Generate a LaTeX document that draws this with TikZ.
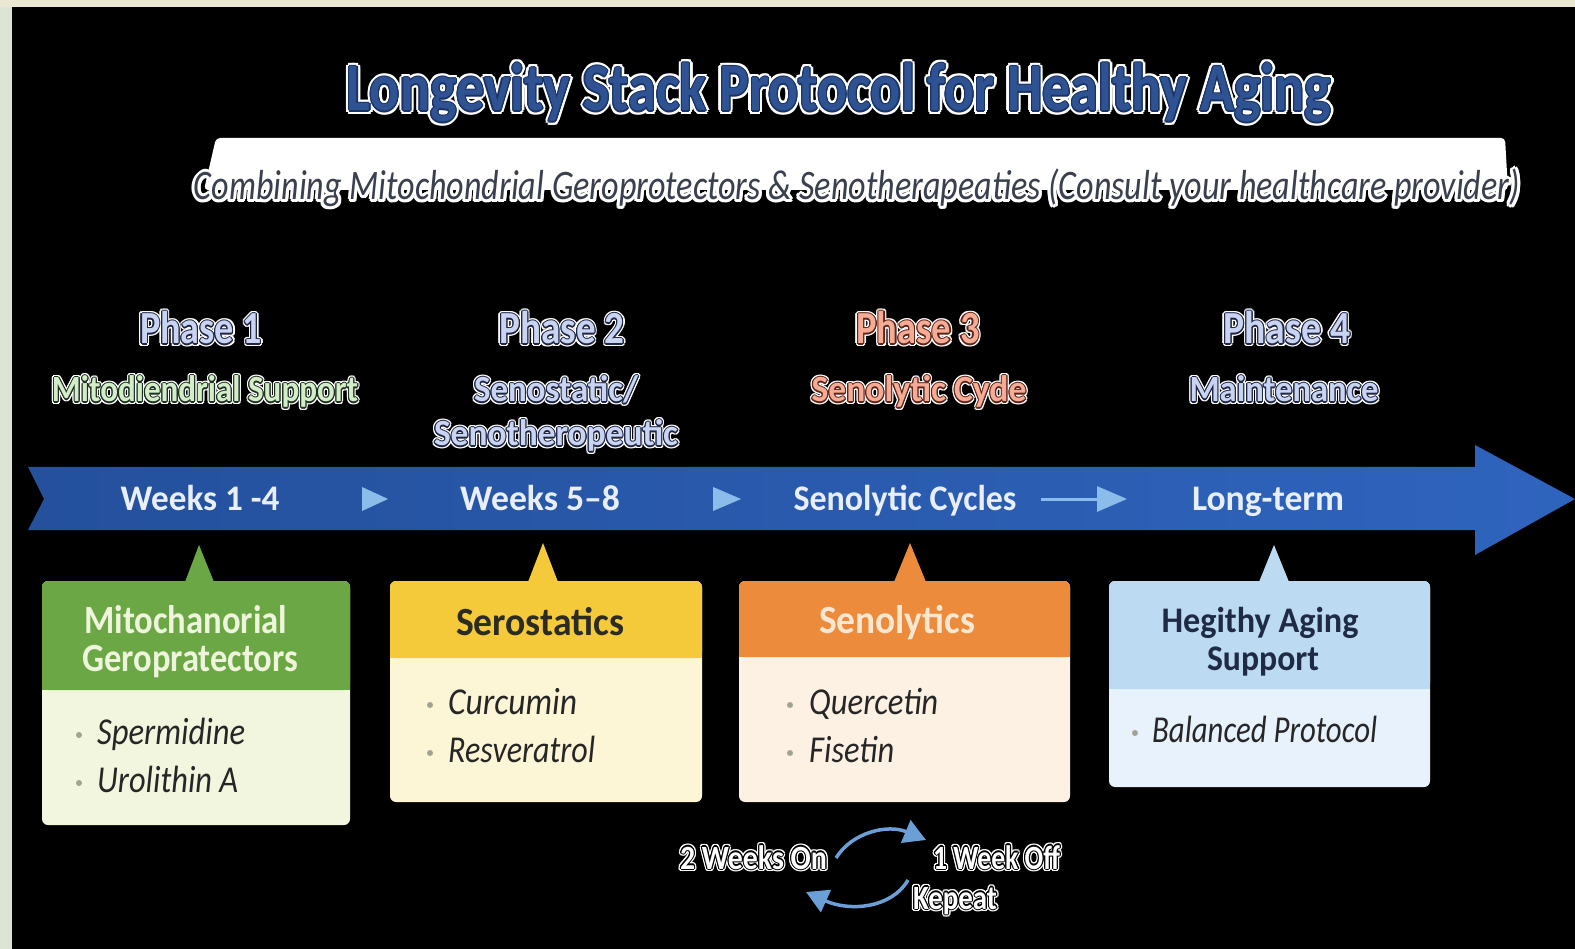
\documentclass[tikz,border=0pt]{standalone}
\usepackage{fontspec}
\setmainfont{Carlito}
\usetikzlibrary{calc,arrows.meta}
\definecolor{edgeL}{HTML}{DDE4D6}
\definecolor{edgeT}{HTML}{EAE8D2}
\definecolor{bandL}{HTML}{24509C}
\definecolor{bandR}{HTML}{2F64BE}
\definecolor{tri}{HTML}{8CBDEA}
\definecolor{wktext}{HTML}{E8EFFA}
\definecolor{ttldk}{HTML}{1A3264}
\definecolor{ttlfill}{HTML}{2E5292}
\definecolor{subtxt}{HTML}{3A404E}
\definecolor{phdk}{HTML}{1E2642}
\definecolor{phblue}{HTML}{C9D3F2}
\definecolor{phgreen}{HTML}{D3EDC9}
\definecolor{phsalm}{HTML}{F4AC96}
\definecolor{phsdk}{HTML}{5E2418}
\definecolor{grdk}{HTML}{1E3020}
\definecolor{ghead}{HTML}{6BA845}
\definecolor{gbody}{HTML}{F3F6DE}
\definecolor{yhead}{HTML}{F4C93A}
\definecolor{ybody}{HTML}{FDF6D6}
\definecolor{ohead}{HTML}{EC8B3B}
\definecolor{obody}{HTML}{FDF1E4}
\definecolor{bhead}{HTML}{BCDBF3}
\definecolor{bbody}{HTML}{E8F2FC}
\definecolor{gtxt}{HTML}{EEF5DC}
\definecolor{ytxt}{HTML}{2B2B22}
\definecolor{otxt}{HTML}{FBE7D2}
\definecolor{btxt}{HTML}{1F2B45}
\definecolor{itxt}{HTML}{262626}
\definecolor{bullet}{HTML}{A3A392}
\definecolor{cyc}{HTML}{6B9FD6}
\newcommand\fw[2]{\resizebox{#1pt}{\height}{#2}}
\newcommand\halotxt[5]{\foreach \ang in {0,30,...,330}{\node[txt,#1,text=#3] at ($(#2)+(\ang:#4)$) {#5};}}
\newcommand\oltxt[7]{%
  \halotxt{#2}{#3}{white}{#6}{#7}%
  \halotxt{#2}{#3}{#4}{1.1}{#7}%
  \node[txt,#2,text=#5] (#1) at (#3) {#7};}
\begin{document}
\begin{tikzpicture}[x=1pt,y=-1pt,
  txt/.style={inner sep=0pt,anchor=base},
  ttl/.style={font=\fontsize{68}{72}\selectfont\bfseries},
  sub/.style={font=\fontsize{42}{46}\selectfont\itshape},
  ph/.style={font=\fontsize{46}{50}\selectfont\bfseries},
  phs/.style={font=\fontsize{37}{40}\selectfont\bfseries},
  wk/.style={txt,font=\fontsize{36}{40}\selectfont\bfseries,text=wktext},
  hd/.style={txt,font=\fontsize{40}{44}\selectfont\bfseries},
  hdb/.style={txt,font=\fontsize{36}{40}\selectfont\bfseries},
  itm/.style={txt,anchor=base west,font=\fontsize{38}{42}\selectfont\itshape,text=itxt},
  cy/.style={font=\fontsize{34}{38}\selectfont\bfseries},
  bul/.style={fill=bullet,circle,inner sep=0pt,minimum size=6pt}]
\useasboundingbox (0,0) rectangle (1575,949);
\fill[edgeL] (0,0) rectangle (1575,949);
\fill[edgeT] (0,0) rectangle (1575,7);
\fill[black] (12,7) rectangle (1575,949);

% title
\oltxt{title}{ttl}{839,111}{ttldk}{ttlfill}{3.5}{\fw{984}{Longevity Stack Protocol for Healthy Aging}}

% subtitle banner
\fill[white,rounded corners=4] (216,138) -- (1505,138) -- (1508,190) -- (204,190) -- cycle;
\halotxt{sub}{857,200}{white}{3}{\fw{1326}{Combining Mitochondrial Geroprotectors \& Senotherapeaties (Consult your healthcare provider)}}
\node[txt,sub,text=subtxt] (subtitle) at (857,200) {\fw{1326}{Combining Mitochondrial Geroprotectors \& Senotherapeaties (Consult your healthcare provider)}};

% phase labels
\oltxt{ph1}{ph}{201,344}{phdk}{phblue}{2.6}{\fw{122}{Phase 1}}
\oltxt{ph2}{ph}{562,344}{phdk}{phblue}{2.6}{\fw{125}{Phase 2}}
\oltxt{ph3}{ph}{918,344}{phsdk}{phsalm}{2.6}{\fw{123}{Phase 3}}
\oltxt{ph4}{ph}{1287,344}{phdk}{phblue}{2.6}{\fw{127}{Phase 4}}
\oltxt{ps1}{phs}{205,402}{grdk}{phgreen}{2.4}{\fw{306}{Mitodiendrial Support}}
\oltxt{ps2a}{phs}{556,402}{phdk}{phblue}{2.4}{\fw{164}{Senostatic/}}
\oltxt{ps2b}{phs}{556,446}{phdk}{phblue}{2.4}{\fw{244}{Senotheropeutic}}
\oltxt{ps3}{phs}{919,402}{phsdk}{phsalm}{2.4}{\fw{215}{Senolytic Cyde}}
\oltxt{ps4}{phs}{1284,402}{phdk}{phblue}{2.4}{\fw{189}{Maintenance}}

% timeline arrow
\path[left color=bandL,right color=bandR]
  (28,467) -- (1475,467) -- (1475,445) -- (1575,499) -- (1475,555) -- (1475,530) -- (28,530) -- (44,499) -- cycle;
\node[wk] (w1) at (200,510) {\fw{159}{Weeks 1 -4}};
\node[wk] (w2) at (540,510) {\fw{160}{Weeks 5--8}};
\node[wk] (w3) at (905,510) {\fw{223}{Senolytic Cycles}};
\node[wk] (w4) at (1268,510) {\fw{152}{Long-term}};
\fill[tri] (362,487) -- (388,499) -- (362,511) -- cycle;
\fill[tri] (713,487) -- (741,499) -- (713,511) -- cycle;
\coordinate (ls) at (1041,499);
\coordinate (le) at (1127,499);
\draw[tri,line width=3,-{Triangle[width=25pt,length=30pt]}] (ls) -- (le);

% box 1
\fill[ghead] (185,582) -- (199,545) -- (214,582) -- cycle;
\fill[gbody,rounded corners=6] (42,581) rectangle (350,825);
\fill[ghead,rounded corners=6] (42,581) rectangle (350,690);
\fill[ghead] (42,675) rectangle (350,690);
\node[hd,anchor=base west,text=gtxt] (h1a) at (84,633) {\fw{203}{Mitochanorial}};
\node[hd,anchor=base west,text=gtxt] (h1b) at (82,671) {\fw{216}{Geropratectors}};
\node[bul] (b1a) at (79,735) {};
\node[itm] (i1a) at (97,744) {\fw{148}{Spermidine}};
\node[bul] (b1b) at (79,783) {};
\node[itm] (i1b) at (97,792) {\fw{141}{Urolithin A}};

% box 2
\fill[yhead] (528,582) -- (543,543) -- (558,582) -- cycle;
\fill[ybody,rounded corners=6] (390,581) rectangle (702,802);
\fill[yhead,rounded corners=6] (390,581) rectangle (702,658);
\fill[yhead] (390,645) rectangle (702,658);
\node[hd,text=ytxt] (h2) at (540,635) {\fw{168}{Serostatics}};
\node[bul] (b2a) at (430,705) {};
\node[itm] (i2a) at (448,714) {\fw{129}{Curcumin}};
\node[bul] (b2b) at (430,753) {};
\node[itm] (i2b) at (448,762) {\fw{147}{Resveratrol}};

% box 3
\fill[ohead] (894,582) -- (910,543) -- (926,582) -- cycle;
\fill[obody,rounded corners=6] (739,581) rectangle (1070,802);
\fill[ohead,rounded corners=6] (739,581) rectangle (1070,657);
\fill[ohead] (739,645) rectangle (1070,657);
\node[hd,text=otxt] (h3) at (897,633) {\fw{156}{Senolytics}};
\node[bul] (b3a) at (790,705) {};
\node[itm] (i3a) at (809,714) {\fw{129}{Quercetin}};
\node[bul] (b3b) at (790,753) {};
\node[itm] (i3b) at (809,762) {\fw{85}{Fisetin}};

% box 4
\fill[bhead] (1259,582) -- (1274,545) -- (1289,582) -- cycle;
\fill[bbody,rounded corners=6] (1109,581) rectangle (1430,787);
\fill[bhead,rounded corners=6] (1109,581) rectangle (1430,689);
\fill[bhead] (1109,675) rectangle (1430,689);
\node[hdb,text=btxt] (h4a) at (1260,632) {\fw{197}{Hegithy Aging}};
\node[hdb,text=btxt] (h4b) at (1263,670) {\fw{112}{Support}};
\node[bul] (b4a) at (1135,733) {};
\node[itm] (i4a) at (1152,742) {\fw{225}{Balanced Protocol}};

% cycle
\oltxt{on}{cy}{753.5,869}{black}{white}{2.4}{\fw{147}{2 Weeks On}}
\oltxt{off}{cy}{996.5,869}{black}{white}{2.4}{\fw{127}{1 Week Off}}
\oltxt{rep}{cy}{955,909}{black}{white}{2.4}{\fw{84}{Kepeat}}
\coordinate (c1s) at (836,858);
\coordinate (c1e) at (926,840);
\coordinate (c2s) at (908,880);
\coordinate (c2e) at (806,892);
\draw[cyc,line width=3.5,-{Triangle[width=24pt,length=22pt]}] (c1s) .. controls (852,832) and (888,824) .. (c1e);
\draw[cyc,line width=3.5,-{Triangle[width=24pt,length=22pt]}] (c2s) .. controls (892,908) and (850,912) .. (c2e);
\end{tikzpicture}
\end{document}
